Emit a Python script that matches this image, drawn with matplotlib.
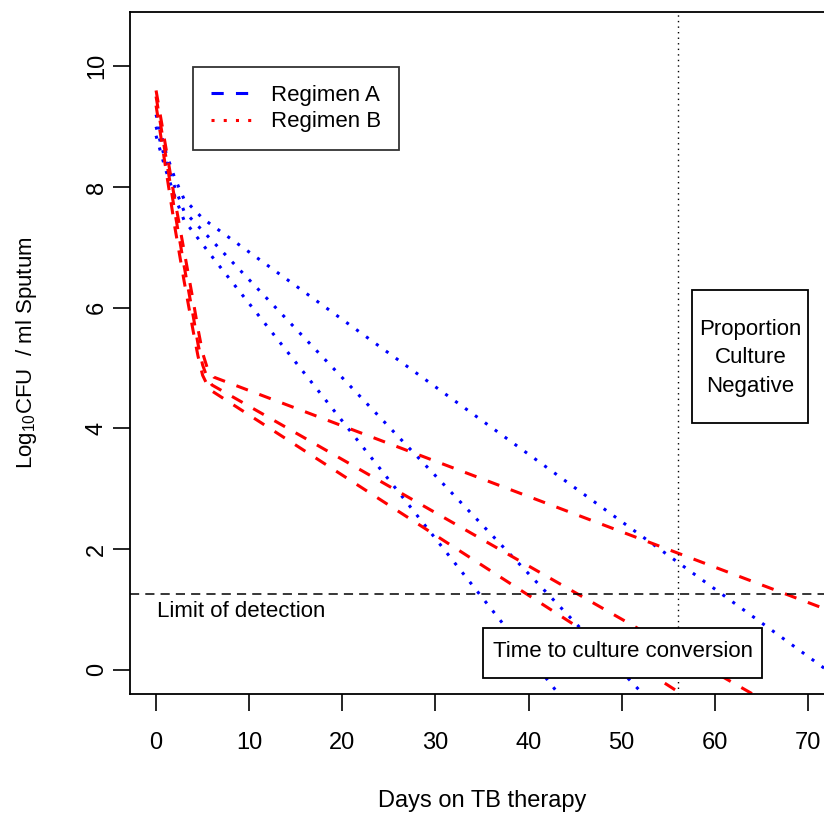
import matplotlib
matplotlib.use("Agg")
import matplotlib.pyplot as plt
from matplotlib.lines import Line2D
from matplotlib.patches import Rectangle

plt.rcParams['font.family'] = ['Liberation Sans', 'DejaVu Sans']
plt.rcParams['mathtext.fontset'] = 'custom'
plt.rcParams['mathtext.rm'] = 'Liberation Sans'
plt.rcParams['mathtext.it'] = 'Liberation Sans:italic'

# ---- bacterial load trajectories (log10 CFU / ml sputum) ----
# Regimen A (blue, dotted)
blue_upper_days = [0, 1, 2, 3, 5, 72]
blue_upper_logcfu = [9.2, 8.6, 8.15, 7.8, 7.48, 0.0]
blue_mid_days = [0, 1, 2, 3, 7, 72]
blue_mid_logcfu = [9.0, 8.45, 8.0, 7.6, 6.95, -3.6]
blue_low_days = [0, 1, 2, 3, 6.5, 72]
blue_low_logcfu = [8.85, 8.3, 7.85, 7.45, 6.75, -6.0]

# Regimen B (red, dashed)
red_upper_days = [0, 1, 2, 3, 4, 4.5, 5, 5.5, 6.2, 72]
red_upper_logcfu = [9.6, 8.7, 7.8, 6.95, 6.1, 5.65, 5.25, 5.0, 4.85, 1.0]
red_mid_days = [0, 1, 2, 3, 4, 4.5, 5, 5.5, 6.0, 72]
red_mid_logcfu = [9.5, 8.55, 7.6, 6.7, 5.85, 5.4, 5.05, 4.84, 4.72, -1.1]
red_low_days = [0, 1, 2, 3, 4, 4.5, 5, 5.5, 6.0, 72]
red_low_logcfu = [9.35, 8.35, 7.35, 6.45, 5.6, 5.2, 4.88, 4.72, 4.62, -1.95]

legend_labels = ["Regimen A", "Regimen B"]
x_ticks = [0, 10, 20, 30, 40, 50, 60, 70]
y_ticks = [0, 2, 4, 6, 8, 10]

detection_limit = 1.25
conversion_day = 56

FS = 17      # axis text
FS_NOTE = 16 # legend and annotations
W, H = 824, 813
fig = plt.figure(figsize=(W / 100, H / 100), dpi=100)
ax = fig.add_axes([130 / W, (H - 694) / H, 704 / W, 682 / H])
ax.set_xlim(-2.8, 72.8)
ax.set_ylim(-0.40, 10.90)

lw = 2.2
for d, v in [(blue_upper_days, blue_upper_logcfu),
             (blue_mid_days, blue_mid_logcfu),
             (blue_low_days, blue_low_logcfu)]:
    ax.plot(d, v, color='#0000ff', lw=lw, linestyle=(0, (1, 3)),
            dash_capstyle='butt')
for d, v in [(red_upper_days, red_upper_logcfu),
             (red_mid_days, red_mid_logcfu),
             (red_low_days, red_low_logcfu)]:
    ax.plot(d, v, color='#ff0000', lw=lw, linestyle=(0, (4, 4)),
            dash_capstyle='butt')

ax.axhline(detection_limit, color='black', lw=1.1, linestyle=(0, (6, 4)))
ax.axvline(conversion_day, color='black', lw=1.0, linestyle=(0, (1, 3)))

ax.text(0.1, 0.97, "Limit of detection", fontsize=FS_NOTE, ha='left', va='center')

# annotation boxes
ax.add_patch(Rectangle((35.1, -0.13), 30.0, 0.83, facecolor='white',
                       edgecolor='black', lw=1.3, zorder=5))
ax.text(50.1, 0.30, "Time to culture conversion", fontsize=FS_NOTE,
        ha='center', va='center', zorder=6)
ax.add_patch(Rectangle((57.55, 4.09), 12.45, 2.2, facecolor='white',
                       edgecolor='black', lw=1.3, zorder=5))
ax.text(63.85, 5.17, "Proportion\nCulture\nNegative", fontsize=FS_NOTE,
        ha='center', va='center', linespacing=1.45, zorder=6)

for s in ['left', 'bottom', 'top']:
    ax.spines[s].set_linewidth(1.3)
ax.spines['right'].set_visible(False)

ax.set_xticks(x_ticks)
ax.set_yticks(y_ticks)
ax.tick_params(axis='both', length=12, width=1.2, labelsize=FS)
ax.tick_params(axis='x', pad=15)
ax.tick_params(axis='y', pad=4)
for lab in ax.get_yticklabels():
    lab.set_rotation(90)
    lab.set_va('center')

ax.set_xlabel("Days on TB therapy", fontsize=FS, labelpad=26)
ax.set_ylabel(r"Log$_{10}$CFU  / ml Sputum", fontsize=16, labelpad=34)

handles = [Line2D([], [], color='#0000ff', lw=lw, linestyle=(0, (4, 4))),
           Line2D([], [], color='#ff0000', lw=lw, linestyle=(0, (1, 3)))]
leg = ax.legend(handles, legend_labels, loc='upper left',
                bbox_to_anchor=(193 / W, 1 - 67 / H), bbox_transform=fig.transFigure,
                fontsize=FS_NOTE, frameon=True, fancybox=False, borderaxespad=0,
                handlelength=1.94, handletextpad=0.77, labelspacing=0.25,
                borderpad=0.8)
leg.get_frame().set_edgecolor('black')
leg.get_frame().set_linewidth(1.3)

fig.savefig("out.png", dpi=100)
